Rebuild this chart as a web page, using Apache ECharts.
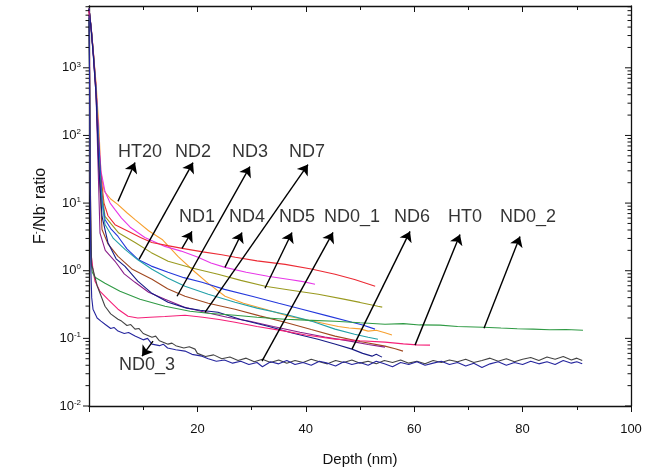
<!DOCTYPE html>
<html><head><meta charset="utf-8">
<script src="https://cdn.jsdelivr.net/npm/echarts@6/dist/echarts.min.js"></script>
<style>html,body{margin:0;padding:0;background:#fff}#c{width:657px;height:472px}</style>
</head><body><div id="c"></div>
<script>
// ---- data: [depth (nm), F-/Nb- ratio] ----
const HT20 = [[0,7000],[0.4,3800],[0.8,1700],[1.3,600],[1.8,140],[2.2,28],[2.8,15],[4,11.5],[5.35,9.5],[7,7.2],[8.5,5.7],[11,3.9],[13.5,2.9],[16.5,1.6],[19.6,0.95],[22,0.65],[25.1,0.42],[28.5,0.33],[32.5,0.27],[37,0.21],[42.3,0.173],[46,0.15],[48,0.142],[50,0.138],[51.5,0.128],[53,0.132],[54.6,0.121],[55.9,0.112]];
const ND4 = [[0,7500],[0.4,4000],[0.8,1700],[1.3,520],[1.8,90],[2.2,30],[2.95,14.8],[3.9,10],[4.8,8],[6,6],[7.6,4.4],[10.3,3.1],[14,2.29],[17,1.95],[20,1.6],[22.5,1.3],[25.1,1.12],[29,0.95],[33,0.83],[37,0.74],[39.5,0.69],[41.7,0.63]];
const ND1 = [[0,7500],[0.4,4000],[0.8,1750],[1.3,500],[1.8,70],[2.2,25],[2.77,10],[3.5,6.5],[4.8,4.8],[7.6,3.7],[9.5,3.1],[11.6,2.62],[14.5,2.35],[17.2,2.14],[21,1.9],[24.5,1.72],[27,1.58],[31,1.4],[36.2,1.24],[41,1.06],[45.4,0.885],[49,0.74],[52.8,0.59]];
const ND5 = [[0,7500],[0.4,3900],[0.8,1650],[1.3,480],[1.8,60],[2.2,20],[2.95,6.34],[4,5],[5.5,3.6],[8.5,2.62],[11.5,1.85],[14.6,1.38],[19,1.1],[23.8,0.885],[28,0.72],[32.5,0.589],[37,0.52],[42.3,0.449],[47,0.38],[50,0.34],[53.3,0.298],[54.1,0.29]];
const ND2 = [[0,7500],[0.4,3900],[0.8,1650],[1.3,480],[1.8,80],[2.1,30],[2.4,11.3],[2.95,5.73],[4,4.2],[5.35,3.21],[7,2.1],[9.04,1.47],[11.5,1.17],[14.58,0.947],[17.5,0.79],[20.85,0.674],[25,0.53],[30.07,0.419],[35,0.33],[39.3,0.27],[44,0.215],[48.52,0.173],[50.5,0.158],[52.77,0.137]];
const TEAL = [[0,7500],[0.4,3800],[0.8,1600],[1.3,450],[1.8,50],[2.3,12],[2.95,4.83],[4.5,3.0],[6.64,2.07],[9,1.45],[11.62,1.05],[14.5,0.78],[17.71,0.589],[22,0.45],[26.94,0.342],[31,0.28],[36.16,0.227],[41,0.18],[45.39,0.137],[49,0.115],[51.5,0.104],[53.32,0.0973]];
const ND3 = [[0,7500],[0.4,3800],[0.8,1600],[1.3,420],[1.8,40],[2.4,4.08],[3.5,2.5],[5.35,1.63],[8,1.05],[11.62,0.746],[14.5,0.54],[17.71,0.419],[22,0.33],[26.94,0.27],[31.5,0.215],[36.16,0.173],[41,0.135],[45.39,0.108],[50,0.09],[54.61,0.0767],[56.5,0.07],[57.93,0.0648]];
const ND7 = [[0,7500],[0.4,3700],[0.8,1500],[1.3,400],[1.7,30],[2.03,3.6],[3,2.0],[4.8,1.38],[6.5,0.9],[8.49,0.674],[11,0.48],[14.02,0.378],[17.5,0.29],[21.4,0.243],[25.5,0.205],[29.7,0.179],[34,0.15],[38.93,0.123],[43.5,0.105],[48.15,0.091],[51.5,0.081],[54.61,0.0742]];
const ND6 = [[0,7500],[0.4,3700],[0.8,1500],[1.3,400],[1.8,35],[2.4,6.34],[3.5,2.6],[5,1.5],[6.64,1.16],[9,0.7],[11.5,0.47],[14.58,0.342],[18,0.28],[20.5,0.26],[23.8,0.243],[28,0.19],[33.03,0.151],[37.5,0.12],[42.25,0.0973],[45.5,0.082],[48.52,0.0693],[50.5,0.06],[52.21,0.0546],[53,0.058],[54.06,0.0528]];
const HT0 = [[0,7000],[0.1,1500],[0.2,120],[0.3,8],[0.45,1.6],[0.8,0.95],[1.11,0.698],[2,0.5],[3.5,0.378],[5.35,0.27],[7.2,0.212],[9,0.2],[11.25,0.205],[14,0.21],[17.71,0.22],[21,0.205],[24,0.19],[26.94,0.173],[31,0.15],[36.16,0.128],[40,0.112],[45.39,0.0973],[50,0.092],[54.61,0.0879],[58,0.083],[60.5,0.08],[62.92,0.0794]];
const ND0_2 = [[0,5500],[0.12,600],[0.25,20],[0.4,1.3],[0.6,0.95],[1.11,0.8],[2.95,0.652],[5.72,0.497],[9.41,0.378],[14.02,0.298],[18.63,0.252],[22,0.235],[26.94,0.22],[31,0.205],[36.16,0.192],[40,0.186],[45.39,0.179],[50,0.17],[54.61,0.162],[58,0.165],[61,0.158],[64.76,0.157],[68,0.15],[72.69,0.146],[76,0.142],[79,0.139],[81.92,0.137],[85,0.134],[88,0.135],[91.14,0.132]];
const ND0_3 = [[0,5000],[0.1,800],[0.2,40],[0.35,3],[0.5,1.2],[0.74,1.05],[1.5,0.6],[2.95,0.298],[4,0.23],[5.35,0.192],[6,0.18],[7,0.155],[7.7,0.16],[8.49,0.137],[9.2,0.14],[10,0.118],[11.62,0.104],[12.3,0.108],[13,0.092],[14.58,0.0821],[15.3,0.085],[16,0.078],[17.5,0.072],[18.5,0.075],[19.56,0.0693],[20,0.06],[21.5,0.054],[23,0.057],[24.5,0.05],[26,0.053],[27.5,0.047],[29,0.051],[30.5,0.045],[32,0.049],[33.5,0.044],[35,0.048],[36.5,0.043],[38,0.047],[39.5,0.044],[41,0.049],[42.5,0.045],[44,0.042],[45.5,0.047],[47,0.044],[48.5,0.048],[50,0.043],[51.5,0.046],[53,0.042],[54.5,0.047],[56,0.044],[57.5,0.048],[59,0.043],[60.5,0.046],[62,0.042],[63.5,0.047],[65,0.044],[66.5,0.048],[68,0.045],[69.5,0.049],[71,0.044],[72.5,0.047],[74,0.051],[75.5,0.046],[77,0.05],[78.5,0.045],[80,0.049],[81.5,0.052],[83,0.047],[84.5,0.053],[86,0.049],[87.5,0.054],[89,0.048],[90,0.051],[91,0.047]];
const ND0_1 = [[0,6000],[0.1,900],[0.2,30],[0.35,1.0],[0.5,0.4],[0.74,0.27],[1.5,0.2],[2.2,0.18],[2.95,0.162],[4,0.14],[4.6,0.145],[5.35,0.128],[6.5,0.118],[7.3,0.122],[8.49,0.108],[10,0.095],[10.8,0.1],[11.62,0.0821],[13,0.078],[13.7,0.082],[14.5,0.072],[16,0.068],[17.71,0.0648],[19,0.058],[20.85,0.0546],[22,0.05],[23.5,0.046],[25,0.048],[26.5,0.043],[28,0.046],[29.5,0.041],[31,0.044],[32,0.038],[33.5,0.045],[35,0.042],[36.5,0.047],[38,0.041],[39.5,0.044],[41,0.04],[42.5,0.046],[44,0.043],[45.5,0.039],[47,0.045],[48.5,0.041],[50,0.044],[51.5,0.04],[53,0.046],[54.5,0.042],[56,0.038],[57.5,0.044],[59,0.041],[60.5,0.045],[62,0.04],[63.5,0.043],[65,0.046],[66.5,0.041],[68,0.044],[69.5,0.039],[71,0.043],[72.5,0.037],[74,0.042],[75.5,0.045],[77,0.04],[78.5,0.044],[80,0.041],[81.5,0.046],[83,0.042],[84.5,0.045],[86,0.041],[87.5,0.047],[89,0.043],[90,0.045],[91,0.042]];

const seriesNames = ['HT20','ND4','ND1','ND5','ND2','','ND3','ND7','ND6','HT0','ND0_2','ND0_3','ND0_1'];
const seriesData  = [HT20, ND4, ND1, ND5, ND2, TEAL, ND3, ND7, ND6, HT0, ND0_2, ND0_3, ND0_1];
const seriesColors = ['#f7a030','#e838e8','#ec2a34','#9a9a20','#2438dc','#22a0a8','#a04820','#8a1f8a','#161a86','#f52078','#2f9a44','#444444','#26269e'];

// annotation labels [depth, ratio] and arrows [tail -> head]
const labelNames = ['HT20','ND2','ND3','ND7','ND1','ND4','ND5','ND0_1','ND6','HT0','ND0_2','ND0_3'];
const labelPos = [[9.41,57.7],[19.19,57.7],[29.7,57.7],[40.22,57.7],[19.93,6.14],[29.15,6.14],[38.38,6.14],[48.52,6.14],[59.59,6.14],[69.37,6.14],[81.0,6.14],[10.7,0.0403]];
const arrowTail = [[5.35,10.6],[9.23,1.47],[16.24,0.419],[21.4,0.243],[17.16,2.14],[25.09,1.12],[32.47,0.55],[31.92,0.0461],[48.52,0.0693],[60.15,0.0794],[72.88,0.141],[11.81,0.091]];
const arrowHead = [[8.49,39.7],[19.19,39.7],[29.7,34.7],[40.4,37.1],[19.0,3.81],[28.23,3.68],[37.45,3.68],[45.02,3.68],[59.23,3.81],[68.45,3.44],[79.52,3.21],[9.78,0.0546]];

const X_MIN = 0, X_MAX = 100, Y_MIN = 0.01, Y_MAX = 8200;
const FONT = '"Liberation Sans", Arial, sans-serif';

// log ticks for the y axes (major at powers of 10, minor at 2..9)
const yTicks = [];
for (let e = -2; e <= 3; e++) {
  for (let k = 1; k <= 9; k++) {
    const v = k * Math.pow(10, e);
    if (v <= Y_MAX) yTicks.push([0, v, k === 1 ? 1 : 0]);
  }
}

const chart = echarts.init(document.getElementById('c'), null, {renderer: 'canvas'});

const series = seriesData.map((d, i) => ({
  type: 'line', name: seriesNames[i], data: d, xAxisIndex: 0, yAxisIndex: 0,
  showSymbol: false, symbol: 'none', smooth: false,
  lineStyle: {color: seriesColors[i], width: 1.1}, itemStyle: {color: seriesColors[i]},
  z: 3, silent: true
}));

series.push({
  type: 'custom', xAxisIndex: 0, yAxisIndex: 0, silent: true, z: 5, clip: false,
  data: yTicks, encode: {x: 0, y: 1},
  renderItem: (params, api) => {
    const cs = params.coordSys;
    const y = api.coord([0, api.value(1)])[1];
    const len = api.value(2) ? 6 : 3.5;
    return {type: 'group', children: [
      {type: 'line', shape: {x1: cs.x, y1: y, x2: cs.x - len, y2: y}, style: {stroke: '#111', lineWidth: 1}},
      {type: 'line', shape: {x1: cs.x + cs.width, y1: y, x2: cs.x + cs.width - len, y2: y}, style: {stroke: '#111', lineWidth: 1}}
    ]};
  }
});

series.push({
  type: 'lines', coordinateSystem: 'cartesian2d', xAxisIndex: 0, yAxisIndex: 0, silent: true, z: 6,
  symbol: ['none', 'arrow'], symbolSize: 10,
  lineStyle: {color: '#000', width: 1.4, opacity: 1},
  data: arrowTail.map((t, i) => ({coords: [t, arrowHead[i]]}))
});

series.push({
  type: 'scatter', xAxisIndex: 0, yAxisIndex: 0, silent: true, z: 7,
  symbolSize: 1, itemStyle: {color: 'rgba(0,0,0,0)'},
  label: {show: true, position: 'inside', formatter: p => p.name, color: '#000', fontSize: 18, fontFamily: FONT},
  data: labelPos.map((p, i) => ({name: labelNames[i], value: p}))
});

const supRich = {s: {fontSize: 8, fontFamily: FONT, color: '#111', verticalAlign: 'top', padding: [0,0,7,0]}};

chart.setOption({
  animation: false,
  backgroundColor: '#fff',
  grid: {left: 89, right: 26, top: 6, bottom: 65, containLabel: false},
  xAxis: [{
    type: 'value', min: X_MIN, max: X_MAX, interval: 20, position: 'bottom',
    name: 'Depth (nm)', nameLocation: 'middle', nameGap: 46,
    nameTextStyle: {fontSize: 15, fontFamily: FONT, color: '#111'},
    axisLine: {show: true, lineStyle: {color: '#111', width: 1.3}},
    axisTick: {show: true, inside: false, length: 6, lineStyle: {color: '#111'}},
    minorTick: {show: true, splitNumber: 2, length: 4, lineStyle: {color: '#111'}},
    axisLabel: {fontSize: 13, fontFamily: FONT, color: '#111', margin: 17,
      formatter: v => (v === 0 ? '' : String(v))},
    splitLine: {show: false}
  }, {
    type: 'value', min: X_MIN, max: X_MAX, interval: 20, position: 'top',
    axisLine: {show: true, onZero: false, lineStyle: {color: '#111', width: 1.3}},
    axisTick: {show: true, inside: true, length: 6, lineStyle: {color: '#111'}},
    minorTick: {show: true, splitNumber: 2, length: 4, lineStyle: {color: '#111'}},
    axisLabel: {show: false}, splitLine: {show: false}
  }],
  yAxis: [{
    type: 'log', logBase: 10, min: Y_MIN, max: Y_MAX, position: 'left',
    name: 'F{s|-}/Nb{s|-} ratio', nameLocation: 'middle', nameGap: 32, nameRotate: 90,
    nameTextStyle: {fontSize: 16, fontFamily: FONT, color: '#111',
      rich: {s: {fontSize: 9, fontFamily: FONT, color: '#111', verticalAlign: 'top', padding: [0,0,8,0]}}},
    axisLine: {show: true, onZero: false, lineStyle: {color: '#111', width: 1.3}},
    axisTick: {show: false},
    axisLabel: {fontSize: 13, fontFamily: FONT, color: '#111', margin: 8, rich: supRich,
      formatter: v => {
        const e = Math.log10(v);
        if (Math.abs(e - Math.round(e)) > 1e-6) return '';
        return '10{s|' + Math.round(e) + '}';
      }},
    splitLine: {show: false}
  }, {
    type: 'log', logBase: 10, min: Y_MIN, max: Y_MAX, position: 'right',
    axisLine: {show: true, onZero: false, lineStyle: {color: '#111', width: 1.3}},
    axisTick: {show: false}, axisLabel: {show: false}, splitLine: {show: false}
  }],
  series: series
});
</script>
</body></html>
